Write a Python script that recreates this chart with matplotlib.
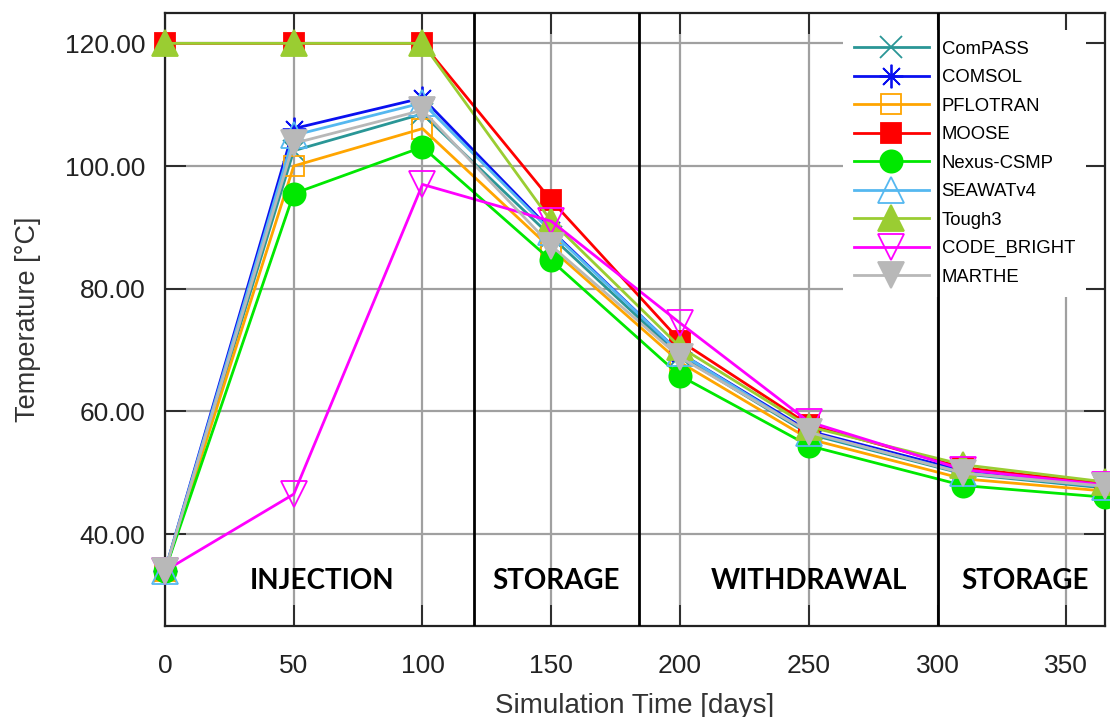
import matplotlib
matplotlib.use("Agg")
import matplotlib.pyplot as plt
from matplotlib.ticker import FormatStrFormatter

plt.rcParams['font.family'] = ['Liberation Sans', 'DejaVu Sans']

# simulation output times [days]
days = [0, 50, 100, 150, 200, 250, 310, 365]

# temperature at the observation point [°C], one list per code
compass = [34.0, 102.5, 108.5, 88.5, 69.0, 56.3, 49.8, 47.5]
comsol = [34.0, 106.1, 111.1, 89.5, 69.5, 56.8, 50.3, 47.8]
pflotran = [34.0, 100.0, 106.1, 86.5, 68.0, 55.5, 49.0, 47.0]
moose = [120.0, 120.0, 120.0, 94.4, 71.5, 57.8, 50.8, 48.2]
nexus = [34.0, 95.5, 103.1, 84.6, 65.8, 54.4, 47.9, 46.0]
seawat = [34.0, 105.0, 110.3, 89.3, 69.5, 56.5, 50.0, 47.7]
tough3 = [120.0, 120.0, 120.0, 91.0, 70.5, 57.5, 51.3, 48.5]
code_bright = [34.0, 46.5, 97.0, 91.0, 74.4, 58.3, 50.5, 48.0]
marthe = [34.0, 103.7, 109.1, 87.0, 68.8, 56.6, 49.9, 47.8]

# phase boundaries [days] and phase names
phase_bounds = [120, 184, 300]
phase_names = ["INJECTION", "STORAGE", "WITHDRAWAL", "STORAGE"]
phase_pos = [61, 152, 250, 334]

series = [
    ("ComPASS", compass, "#2a9696", "x", True, 16),
    ("COMSOL", comsol, "#0a10f0", (8, 2, 0), True, 17),
    ("PFLOTRAN", pflotran, "#ffa500", "s", False, 15),
    ("MOOSE", moose, "#ff0000", "s", True, 15),
    ("Nexus-CSMP", nexus, "#00e800", "o", True, 16),
    ("SEAWATv4", seawat, "#55b8f0", "^", False, 19),
    ("Tough3", tough3, "#9acd32", "^", True, 19),
    ("CODE_BRIGHT", code_bright, "#ff00ff", "v", False, 19),
    ("MARTHE", marthe, "#b8b8b8", "v", True, 19),
]

fig = plt.figure(figsize=(11.1, 7.17), dpi=100)
ax = fig.add_axes([0.1486, 0.1269, 0.8469, 0.8554])

for name, vals, col, mk, filled, ms in series:
    ax.plot(days, vals, color=col, lw=2, marker=mk, ms=ms,
            mfc=col if filled else "none", mec=col, mew=1.3, label=name,
            clip_on=False, zorder=3)

for b in phase_bounds:
    ax.axvline(b, color="black", lw=2, zorder=6)

for name, xp in zip(phase_names, phase_pos):
    ax.text(xp, 32.4, name, ha="center", va="center", fontsize=20,
            fontweight="bold", family="Lato", color="black")

ax.set_xlim(0, 365)
ax.set_ylim(25, 125)
ax.set_xticks([0, 50, 100, 150, 200, 250, 300, 350])
ax.set_yticks([40, 60, 80, 100, 120])
ax.yaxis.set_major_formatter(FormatStrFormatter("%.2f"))
ax.grid(True, color="#a0a0a0", lw=1.6, zorder=0)
ax.set_axisbelow(True)
ax.tick_params(direction="in", length=15, width=1.3, top=True, right=True,
               labelsize=19, colors="#222222")
ax.tick_params(axis="x", pad=20)
ax.tick_params(axis="y", pad=14)
for sp in ax.spines.values():
    sp.set_linewidth(1.6)
    sp.set_color("#222222")

ax.set_xlabel("Simulation Time [days]", fontsize=20, color="#333333", labelpad=11)
ax.set_ylabel("Temperature [°C]", fontsize=19.5, color="#333333", labelpad=17)

leg = ax.legend(loc="upper left", bbox_to_anchor=(0.721, 0.972), fontsize=13.3,
                handlelength=4.05, handletextpad=0.7, labelspacing=0.62,
                borderpad=0.6, frameon=True, fancybox=False, edgecolor="none",
                facecolor="white", framealpha=1.0, borderaxespad=0.0)
leg.set_zorder(5)

fig.savefig("out.png", dpi=100)
